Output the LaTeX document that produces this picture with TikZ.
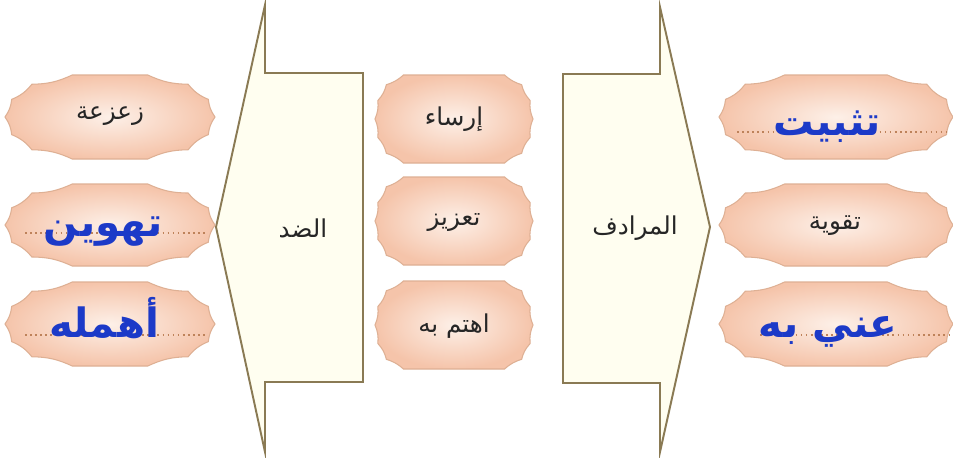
\documentclass[tikz,border=0pt]{standalone}
\usepackage{fontspec}
\newfontfamily\arabicfont[Script=Arabic]{DejaVu Sans}
\TeXXeTstate=1
\usetikzlibrary{calc}

\definecolor{frameline}{RGB}{138,122,84}
\definecolor{framefill}{RGB}{255,254,240}
\definecolor{peachin}{RGB}{253,240,232}
\definecolor{peachout}{RGB}{245,196,170}
\definecolor{peachline}{RGB}{222,176,148}
\definecolor{wordblue}{RGB}{28,58,200}
\definecolor{dotcol}{RGB}{190,130,90}

% scalloped badge: centre x, centre y, half width, half height, flat part of top
\newcommand{\badge}[5]{%
  \pgfmathsetmacro\bdgF{#5*#3}
  \pgfmathsetmacro\bdgM{(#5+0.6*(1-#5))*#3}
  \pgfmathsetmacro\bdgN{(#5+0.9*(1-#5))*#3}
  \path[badgeshape] ({#1-\bdgF},{#2-#4}) -- ({#1+\bdgF},{#2-#4})
    to[bend right=12] ({#1+\bdgM},{#2-0.78*#4})
    to[bend right=14] ({#1+\bdgN},{#2-0.42*#4})
    to[bend right=14] ({#1+#3},{#2})
    to[bend right=14] ({#1+\bdgN},{#2+0.42*#4})
    to[bend right=14] ({#1+\bdgM},{#2+0.78*#4})
    to[bend right=12] ({#1+\bdgF},{#2+#4})
    -- ({#1-\bdgF},{#2+#4})
    to[bend right=12] ({#1-\bdgM},{#2+0.78*#4})
    to[bend right=14] ({#1-\bdgN},{#2+0.42*#4})
    to[bend right=14] ({#1-#3},{#2})
    to[bend right=14] ({#1-\bdgN},{#2-0.42*#4})
    to[bend right=14] ({#1-\bdgM},{#2-0.78*#4})
    to[bend right=12] ({#1-\bdgF},{#2-#4}) -- cycle;
}

\begin{document}
\begin{tikzpicture}[
  x=0.02cm, y=-0.02cm,
  frame/.style={draw=frameline, line width=1.1pt, fill=framefill, line join=miter},
  badgeshape/.style={draw=peachline, line width=0.6pt, inner color=peachin, outer color=peachout},
  word/.style={font=\arabicfont\fontsize{14}{16}\selectfont, text=black!85, inner sep=1pt},
  keyword/.style={font=\arabicfont\bfseries\fontsize{23}{25}\selectfont, text=wordblue, anchor=base, inner sep=1pt},
  dotline/.style={draw=dotcol, dotted, line width=0.9pt}
]
  \useasboundingbox (0,0) rectangle (953,457);
  \fill[white] (0,0) rectangle (953,457);

  % the two arrows
  \draw[frame] (363,73) -- (265,73) -- (265,5) -- (216,227) -- (265,452) -- (265,382) -- (363,382) -- cycle;
  \draw[frame] (563,74) -- (660,74) -- (660,7) -- (710,227) -- (660,452) -- (660,383) -- (563,383) -- cycle;
  \node[word] (opp) at (303,228) {\beginR الضد\endR};
  \node[word] (syn) at (635,228) {\beginR المرادف\endR};

  % badges
  \badge{110}{117}{105}{42}{0.36}
  \badge{110}{225}{105}{41}{0.36}
  \badge{110}{324}{105}{42}{0.36}
  \badge{454}{119}{79}{44}{0.64}
  \badge{454}{221}{79}{44}{0.64}
  \badge{454}{325}{79}{44}{0.64}
  \badge{836}{117}{117}{42}{0.44}
  \badge{836}{225}{117}{41}{0.44}
  \badge{836}{324}{117}{42}{0.44}

  % dotted answer lines
  \draw[dotline] (25,233) -- (207,233);
  \draw[dotline] (25,335) -- (207,335);
  \draw[dotline] (737,132) -- (950,132);
  \draw[dotline] (760,335) -- (950,335);

  \node[word] (l1) at (110,116) {\beginR زعزعة\endR};
  \node[keyword] (l2) at (103,236) {\beginR تهوين\endR};
  \node[keyword] (l3) at (104,337) {\beginR أهمله\endR};
  \node[word] (m1) at (454,119) {\beginR إرساء\endR};
  \node[word] (m2) at (454,222) {\beginR تعزيز\endR};
  \node[word] (m3) at (454,326) {\beginR اهتم به\endR};
  \node[keyword] (r1) at (827,135) {\beginR تثبيت\endR};
  \node[word] (r2) at (835,226) {\beginR تقوية\endR};
  \node[keyword] (r3) at (828,337) {\beginR عني به\endR};
\end{tikzpicture}
\end{document}
